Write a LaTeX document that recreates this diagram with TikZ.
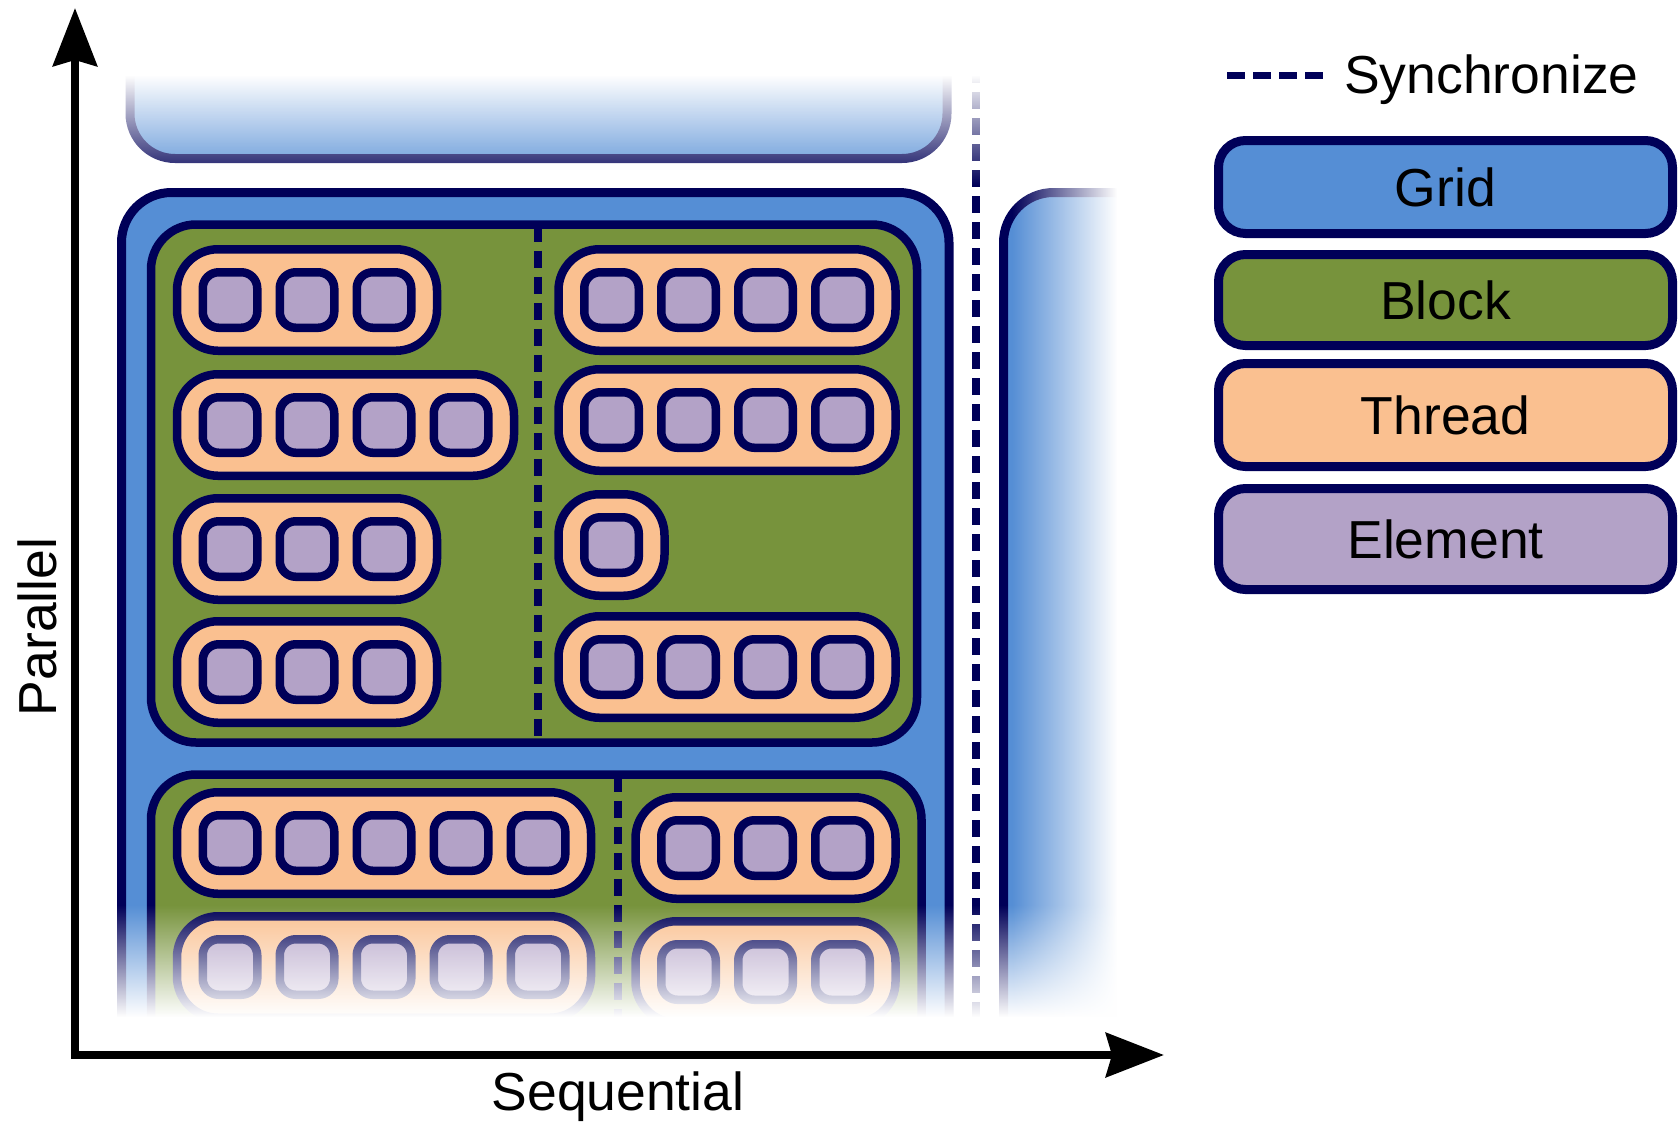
\documentclass[tikz,border=0pt]{standalone}
\usepackage{fontspec}
\setmainfont{Liberation Sans}
\usetikzlibrary{arrows.meta,fadings}

\definecolor{gridblue}{RGB}{85,142,213}
\definecolor{blockgreen}{RGB}{119,147,60}
\definecolor{threadorange}{RGB}{250,192,144}
\definecolor{elempurple}{RGB}{179,162,199}
\definecolor{navy}{RGB}{0,0,88}

\tikzfading[name=fadetop, top color=transparent!0, bottom color=transparent!100]
\tikzfading[name=fadebottom, top color=transparent!100, bottom color=transparent!0]
\tikzfading[name=faderight, left color=transparent!100, right color=transparent!0]

\tikzset{bx/.append style={draw=navy, line width=8.5pt, outer sep=0pt}}
\tikzset{th/.append style={bx, fill=threadorange, rounded corners=41pt, minimum height=101.5pt, inner sep=0pt, anchor=west}}
\tikzset{el/.append style={bx, fill=elempurple, rounded corners=16pt, minimum width=54.5pt, minimum height=55.5pt, inner sep=0pt}}
\tikzset{syn/.append style={draw=navy, line width=8.5pt, dash pattern=on 17pt off 9pt}}
\tikzset{lb/.append style={inner sep=0pt, font=\fontsize{53.5}{60}\selectfont}}
\tikzset{lg/.append style={lb, draw=navy, line width=9pt, rounded corners=27pt, minimum width=454pt}}
\tikzset{ax/.append style={line width=8pt, {Stealth[length=58pt,width=44pt,inset=6pt]}-{Stealth[length=58pt,width=44pt,inset=6pt]}}}

\begin{document}
\begin{tikzpicture}[x=1pt,y=-1pt]
    \fill[white] (0,0) rectangle (1679,1122);
    \useasboundingbox (0,0) rectangle (1679,1122);

    % grids: previous, current, next (open where they fade out)
    \draw[bx, line width=9pt, fill=gridblue, rounded corners=45pt] (130,20) -- (130,158.5) -- (947,158.5) -- (947,20);
    \draw[bx, line width=9pt, fill=gridblue, rounded corners=50pt] (121.5,1030) -- (121.5,192.5) -- (949,192.5) -- (949,1030);
    \draw[bx, line width=9pt, fill=gridblue, rounded corners=50pt] (1003.5,1030) -- (1003.5,192.5) -- (1160,192.5) -- (1160,1030);

    % blocks
    \draw[bx, fill=blockgreen, rounded corners=45pt] (151,224.5) rectangle (917,742.5);
    \draw[bx, fill=blockgreen, rounded corners=45pt] (151,1030) -- (151,774.5) -- (921.5,774.5) -- (921.5,1030);

    % sync lines
    \coordinate (s0a) at (976,40);
    \coordinate (s0b) at (976,1030);
    \coordinate (s1a) at (538,224.5);
    \coordinate (s1b) at (538,742.5);
    \coordinate (s2a) at (618,774.5);
    \coordinate (s2b) at (618,1030);
    \draw[syn] (s0a) -- (s0b);
    \draw[syn] (s1a) -- (s1b);
    \draw[syn] (s2a) -- (s2b);

    % threads: first element x / y / number of elements
    \foreach \cx/\cy/\n [count=\k] in {230/300/3, 230/425/4, 230/549/3, 230/672/3,
        611.5/300/4, 611.5/420/4, 611.5/545/1, 611.5/667/4,
        230/843/5, 688.5/848/3, 230/967/5, 688.5/972/3}{
        \pgfmathsetmacro{\w}{77*(\n-1)+106}
        \node[th, minimum width=\w pt] (t\k) at (\cx-53,\cy) {};
        \foreach \e in {1,...,\n}
            \node[el] (t\k-\e) at (\cx+77*\e-77,\cy) {};
    }

    % fade out the edges
    \fill[white] (100,0) rectangle (1000,75);
    \fill[white, path fading=fadetop] (100,75) rectangle (1000,185);
    \fill[white, path fading=fadebottom] (100,905) rectangle (1130,1017);
    \fill[white] (100,1017) rectangle (1200,1048);
    \fill[white, path fading=faderight] (1012,150) rectangle (1117,1048);
    \fill[white] (1117,150) rectangle (1200,1048);

    % axes
    \coordinate (o) at (75,1055);
    \coordinate (ytip) at (75,8);
    \coordinate (xtip) at (1164,1055);
    \draw[ax] (ytip) -- (o) -- (xtip);
    \node[lb, rotate=90] (par) at (37.5,627) {Parallel};
    \node[lb, anchor=base] (seq) at (618,1110) {Sequential};

    % legend
    \coordinate (ld0) at (1227,75);
    \coordinate (ld1) at (1323,75);
    \draw[syn, line width=7pt, dash pattern=on 18pt off 8pt] (ld0) -- (ld1);
    \node[lb, anchor=base west] (lsync) at (1344,93) {Synchronize};
    \node[lg, fill=gridblue, minimum height=93pt] (lgrid) at (1445.5,187) {Grid};
    \node[lg, fill=blockgreen, minimum height=91pt] (lblock) at (1445.5,300) {Block};
    \node[lg, fill=threadorange, minimum height=103pt] (lthread) at (1445.5,415) {Thread};
    \node[lg, fill=elempurple, minimum height=101pt] (lelem) at (1445.5,539) {Element};
\end{tikzpicture}
\end{document}
